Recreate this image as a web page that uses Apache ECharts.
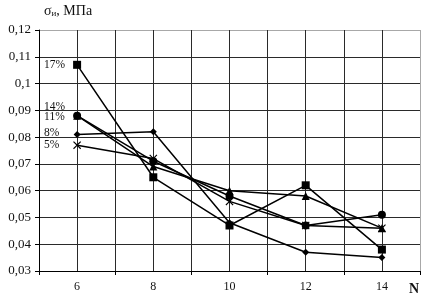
<!DOCTYPE html>
<html>
<head>
<meta charset="utf-8">
<script src="https://cdn.jsdelivr.net/npm/echarts@6/dist/echarts.min.js"></script>
<style>html,body{margin:0;padding:0;background:#fff}#c{width:432px;height:299px}</style>
</head>
<body>
<div id="c"></div>
<script>
const xValues = [6, 8, 10, 12, 14];
const seriesNames = ['17%', '14%', '11%', '8%', '5%'];
const s17 = [0.107, 0.065, 0.047, 0.062, 0.038];
const s14 = [0.088, 0.071, 0.058, 0.047, 0.051];
const s11 = [0.088, 0.069, 0.060, 0.058, 0.046];
const s8  = [0.081, 0.082, 0.048, 0.037, 0.035];
const s5  = [0.077, 0.072, 0.056, 0.047, 0.046];
const yTicks = [0.03, 0.04, 0.05, 0.06, 0.07, 0.08, 0.09, 0.1, 0.11, 0.12];

const SERIF = '"Liberation Serif", "DejaVu Serif", serif';
const crossPath = 'path://M0,1L1,0L5,4L9,0L10,1L6,5L10,9L9,10L5,6L1,10L0,9L4,5Z';
const symbols = ['rect', 'circle', 'triangle', 'diamond', crossPath];
const sizes = [8, 8, 8, 7, 8];
const labelDy = [0, -9, 1, -1, 0];
const allData = [s17, s14, s11, s8, s5];

const dark = '#2a2a2a';
const yColors = yTicks.map((v, i) => i === yTicks.length - 1 ? '#a8a8a8' : dark);
const xColors = [];
for (let i = 5; i <= 15; i++) xColors.push(i === 15 ? '#a8a8a8' : dark);

const series = allData.map((arr, k) => ({
  name: seriesNames[k],
  type: 'line',
  symbol: symbols[k],
  symbolSize: sizes[k],
  showAllSymbol: true,
  lineStyle: { color: '#000', width: 1.5 },
  itemStyle: { color: '#000' },
  data: arr.map((v, i) => {
    const d = { value: [xValues[i], v] };
    if (i === 0) {
      d.label = {
        show: true,
        position: [sizes[k] / 2 - 33, sizes[k] / 2 + labelDy[k]],
        align: 'left', verticalAlign: 'middle',
        formatter: seriesNames[k],
        color: '#111', fontFamily: SERIF, fontSize: 11.5
      };
    }
    return d;
  }),
  label: { show: false },
  animation: false
}));

const chart = echarts.init(document.getElementById('c'));
chart.setOption({
  animation: false,
  backgroundColor: '#fff',
  grid: { left: 39, right: 12, top: 30, bottom: 28 },
  xAxis: [{
    type: 'value', min: 5, max: 15, interval: 1,
    axisLine: { lineStyle: { color: '#000', width: 1 } },
    axisTick: { show: false },
    axisLabel: {
      margin: 10, color: '#111', fontFamily: SERIF, fontSize: 12,
      formatter: v => (v % 2 === 0 ? String(v) : '')
    },
    splitLine: { show: true, lineStyle: { color: xColors, width: 1 } }
  }, {
    type: 'value', min: 5, max: 15, interval: 2, position: 'bottom',
    axisLine: { show: false },
    axisTick: { show: true, length: 4, lineStyle: { color: '#000' } },
    axisLabel: { show: false },
    splitLine: { show: false }
  }],
  yAxis: {
    type: 'value', min: 0.03, max: 0.12, interval: 0.01,
    axisLine: { show: true, lineStyle: { color: '#000', width: 1 } },
    axisTick: { show: true, length: 4, lineStyle: { color: '#000' } },
    axisLabel: {
      margin: 8, color: '#111', fontFamily: SERIF, fontSize: 13,
      formatter: v => String(+v.toFixed(2)).replace('.', ',')
    },
    splitLine: { show: true, lineStyle: { color: yColors, width: 1 } }
  },
  series: series,
  graphic: [{
    type: 'text', left: 44, top: 4,
    style: {
      text: '{a|σ}{b|и}{a|, МПа}',
      rich: {
        a: { fontFamily: SERIF, fontSize: 14, fill: '#111', verticalAlign: 'bottom' },
        b: { fontFamily: SERIF, fontSize: 9, fill: '#111', verticalAlign: 'bottom' }
      }
    }
  }, {
    type: 'text', left: 409, top: 282,
    style: { text: 'N', fontFamily: SERIF, fontSize: 14, fontWeight: 'bold', fill: '#111' }
  }]
});
</script>
</body>
</html>
